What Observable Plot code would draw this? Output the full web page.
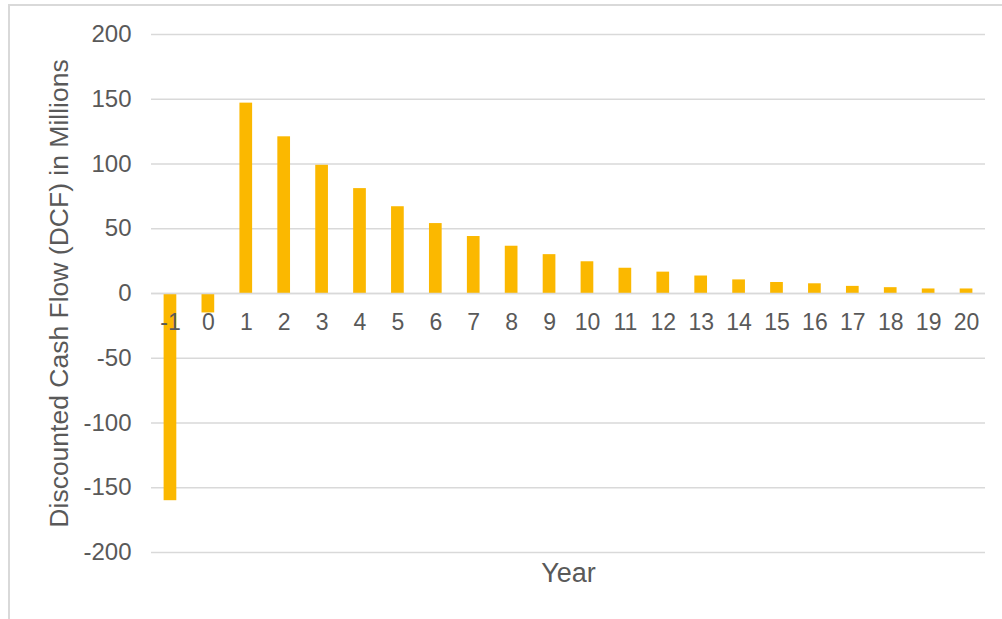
<!DOCTYPE html>
<html>
<head>
<meta charset="utf-8">
<script src="https://cdn.jsdelivr.net/npm/d3@7"></script>
<script src="https://cdn.jsdelivr.net/npm/@observablehq/plot@0.6"></script>
<style>
  html, body { margin: 0; padding: 0; background: #fff; }
  #chart { position: relative; width: 1002px; height: 619px; overflow: hidden; }
  #chart svg { position: absolute; left: 0; top: 0; }
  /* light chart-area border along the top and left */
  #frame { position: absolute; left: 8px; top: 4px; right: -10px; bottom: -10px;
           border-top: 2px solid #d9d9d9; border-left: 2px solid #d9d9d9; pointer-events: none; }
</style>
</head>
<body>
<div id="chart"><div id="frame"></div></div>
<script>
// Discounted cash flow per project year, in millions
const years = [-1, 0, 1, 2, 3, 4, 5, 6, 7, 8, 9, 10, 11, 12, 13, 14, 15, 16, 17, 18, 19, 20];
const dcf = [-160, -15, 147, 121, 99, 81, 67, 54, 44, 36.5, 30, 24.5, 19.5, 16.5, 13.5, 10.5, 8.5, 7.5, 5.5, 4.5, 3.5, 3.5];
const yTicks = [-200, -150, -100, -50, 0, 50, 100, 150, 200];

const data = years.map((year, i) => ({year, value: dcf[i]}));

const ink = "#595959";
const gridColor = "#d9d9d9";
const gold = "#fbb800";
const font = "'Liberation Sans', Arial, sans-serif";

const chart = Plot.plot({
  width: 1002,
  height: 619,
  marginLeft: 151,
  marginRight: 17,
  marginTop: 34,
  marginBottom: 67,
  style: {fontFamily: font, background: "transparent", color: ink},
  x: {type: "band", domain: years, paddingInner: 0.665, paddingOuter: 0.3325, round: false},
  y: {domain: [-200, 200]},
  marks: [
    Plot.gridY(yTicks, {stroke: gridColor, strokeOpacity: 1, strokeWidth: 1.5}),
    Plot.barY(data, {x: "year", y: "value", fill: gold}),
    Plot.ruleY([0], {stroke: gridColor, strokeWidth: 1.5}),
    Plot.axisY(yTicks, {tickSize: 0, tickPadding: 20, fontSize: 24, label: null, tickFormat: d => String(d)}),
    Plot.axisY({ticks: [], tickSize: 0, label: "Discounted Cash Flow (DCF) in Millions", labelArrow: "none", labelAnchor: "center", labelOffset: 102, fontSize: 26.5}),
    // year labels sit just under the zero line
    Plot.text(data, {x: "year", y: 0, dy: 29, text: d => String(d.year), fontSize: 23, fill: ink}),
    Plot.axisX({ticks: [], tickSize: 0, label: "Year", labelArrow: "none", labelAnchor: "center", labelOffset: 29, fontSize: 27})
  ]
});

document.getElementById("chart").appendChild(chart);
</script>
</body>
</html>
